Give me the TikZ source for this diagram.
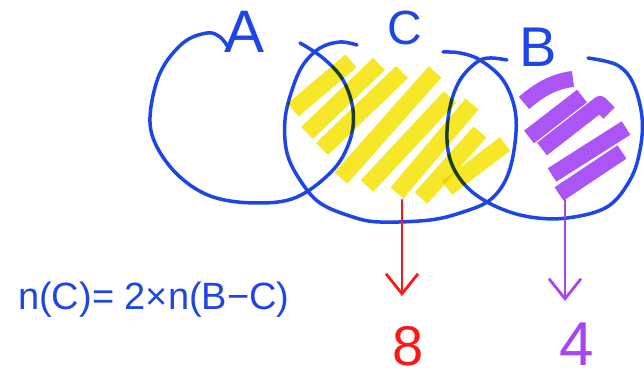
\documentclass[tikz,border=0pt]{standalone}
\usepackage{fontspec}
\setmainfont{Liberation Sans}
\usetikzlibrary{arrows.meta}
\definecolor{penblue}{RGB}{30,70,230}
\definecolor{hlyellow}{RGB}{246,232,40}
\definecolor{hlpurple}{RGB}{172,85,246}
\definecolor{penred}{RGB}{250,25,25}
\definecolor{penpurple}{RGB}{165,70,240}
\begin{document}
\begin{tikzpicture}[x=1pt,y=-1pt,
  setline/.style={draw=penblue,line width=3.5pt,line cap=round,line join=round},
  ystripe/.style={draw=hlyellow,line width=17pt,line cap=butt},
  pstripe/.style={draw=hlpurple,line width=16pt,line cap=butt,line join=round},
  lbl/.style={text=penblue,inner sep=0pt},
  numlbl/.style={inner sep=0pt},
  pointer/.style={line width=2.8pt,line cap=round,line join=round,-{Straight Barb[length=20pt,width=32pt]}}]
\useasboundingbox (0,0) rectangle (644,379);
% set A
\draw[setline] plot[smooth,tension=0.6] coordinates{(228,47) (220,37) (207,33) (183,43) (160,73) (150,117) (157,147) (180,177) (213,197) (257,203) (297,197) (333,170) (350,140) (353,110) (343,80) (323,58) (300,43)};
% set C
\draw[setline] plot[smooth,tension=0.6] coordinates{(357,45) (340,42) (320,48) (303,65) (292,90) (285,120) (287,153) (300,180) (320,203) (353,217) (380,222) (430,220) (463,212) (490,200) (507,177) (515,143) (515,110) (503,80) (480,60) (460,53) (443,52)};
% set B
\draw[setline] plot[smooth,tension=0.6] coordinates{(507,60) (490,58) (477,62) (460,80) (450,107) (447,140) (453,167) (470,190) (497,207) (530,217) (567,218) (607,207) (630,180) (640,150) (642,117) (633,83) (617,65) (588,58)};
% yellow hatching of C
\begin{scope}[blend mode=multiply]
\draw[ystripe] (293,110) -- (351,61);
\draw[ystripe] (307,133) -- (379,64);
\draw[ystripe] (322,149) -- (402,72);
\draw[ystripe] (341,178) -- (435,72);
\draw[ystripe] (367,186) -- (450,97);
\draw[ystripe] (397,193) -- (472,104);
\draw[ystripe] (421,198) -- (480,132);
\draw[ystripe] (447,188) -- (505,144);
\end{scope}
% purple hatching of B-C
\draw[pstripe] (524,103) .. controls (540,89) and (555,81) .. (573,79);
\draw[pstripe] (529,137) -- (582,96);
\draw[pstripe] (542,149) -- (600,104) -- (609,113);
\draw[pstripe] (552,175) -- (626,128);
\draw[pstripe] (559,194) -- (622,152);
% labels
\node[lbl,font=\fontsize{60}{60}\selectfont] (lA) at (245,32) {A};
\node[lbl,font=\fontsize{48}{48}\selectfont] (lC) at (405,28) {C};
\node[lbl,font=\fontsize{56}{56}\selectfont] (lB) at (538,47) {B};
% arrows
\coordinate (r1) at (402,200);
\node[numlbl,text=penred,font=\fontsize{56}{56}\selectfont] (n8) at (408,346) {8};
\coordinate (r2) at (402,296);
\draw[pointer,draw=penred] (r1) -- (r2);
\coordinate (p1) at (565,200);
\node[numlbl,text=penpurple,font=\fontsize{62}{62}\selectfont] (n4) at (577,344) {4};
\coordinate (p2) at (565,301);
\draw[pointer,draw=penpurple] (p1) -- (p2);
% equation
\node[lbl,font=\fontsize{38}{38}\selectfont,anchor=west] (eq) at (18,300) {n(C)= 2×n(B−C)};
\end{tikzpicture}
\end{document}
